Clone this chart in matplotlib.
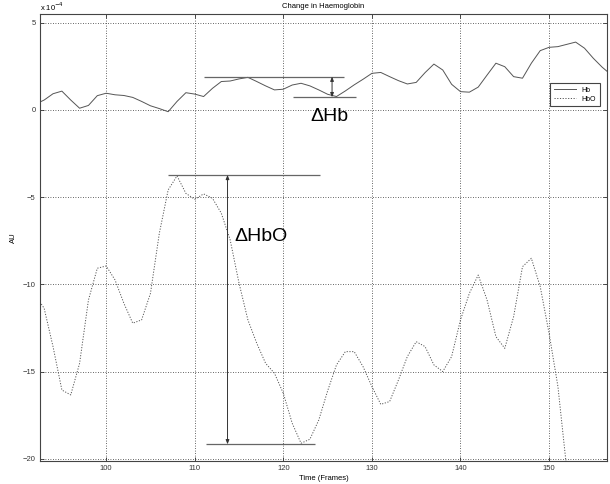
import numpy as np
import matplotlib
matplotlib.use("Agg")
import matplotlib.pyplot as plt

plt.rcParams['font.family'] = ['Liberation Sans', 'DejaVu Sans']

# frames and haemoglobin change (units of 1e-4 AU)
frames = list(range(92, 158))
hb = [0.33, 0.57, 0.93, 1.08, 0.57, 0.10, 0.26, 0.82, 0.96, 0.87,
      0.83, 0.72, 0.49, 0.24, 0.08, -0.10, 0.49, 0.99, 0.91, 0.77,
      1.24, 1.63, 1.66, 1.78, 1.87, 1.63, 1.38, 1.15, 1.19, 1.43,
      1.53, 1.38, 1.15, 0.90, 0.77, 1.09, 1.44, 1.76, 2.10, 2.15,
      1.91, 1.68, 1.49, 1.58, 2.14, 2.63, 2.29, 1.47, 1.05, 1.02,
      1.31, 2.00, 2.68, 2.48, 1.91, 1.82, 2.68, 3.40, 3.59, 3.63,
      3.76, 3.89, 3.54, 2.96, 2.45, 2.02]
hbo_frames = list(range(92, 153))
hbo = [-10.6, -11.37, -13.56, -16.05, -16.33, -14.52, -10.89, -9.07, -8.94, -9.74,
       -11.08, -12.22, -12.03, -10.51, -7.07, -4.58, -3.78, -4.78, -5.12, -4.81,
       -5.06, -5.92, -7.45, -9.93, -12.03, -13.37, -14.52, -15.09, -16.24, -17.95,
       -19.10, -18.87, -17.77, -16.10, -14.61, -13.85, -13.85, -14.71, -15.85, -16.87,
       -16.71, -15.47, -14.13, -13.28, -13.56, -14.61, -14.99, -14.13, -12.03, -10.51,
       -9.46, -10.89, -12.99, -13.66, -11.84, -8.98, -8.50, -10.12, -12.80, -15.85,
       -20.6]

xticks = [100, 110, 120, 130, 140, 150]
yticks = [-20, -15, -10, -5, 0, 5]

fig = plt.figure(figsize=(6.1, 4.84), dpi=100)
ax = fig.add_axes([40 / 610, 1 - 460.7 / 484, 567 / 610, 446.7 / 484])

line_col = '#555555'
ax.plot(frames, hb, color=line_col, lw=0.7, label='Hb')
ax.plot(hbo_frames, hbo, color=line_col, lw=0.7, linestyle=(0, (1.2, 1.6)), label='HbO')

ax.set_xlim(92.53, 156.54)
ax.set_ylim(-20.1, 5.5)
ax.set_xticks(xticks)
ax.set_yticks(yticks)
ax.grid(True, color='#333333', linestyle=(0, (1, 2)), linewidth=0.6)
ax.tick_params(direction='in', length=3, width=0.6, labelsize=5.5, colors='#333333',
               top=True, right=True, pad=3)
for sp in ax.spines.values():
    sp.set_color('#444444')
    sp.set_linewidth(0.8)

ax.set_title('Change in Haemoglobin', fontsize=5.5, pad=4)
ax.set_xlabel('Time (Frames)', fontsize=5.5, labelpad=2)
ax.set_ylabel('AU', fontsize=5.5, labelpad=4)
ax.text(0, 1.007, r'x 10$^{-4}$', transform=ax.transAxes, fontsize=5.5,
        ha='left', va='baseline')

leg = ax.legend(loc='upper right', bbox_to_anchor=(0.993, 0.853), fontsize=5,
                fancybox=False, edgecolor='#444444', handlelength=3.2,
                borderpad=0.5, labelspacing=0.3, handletextpad=0.8, framealpha=1)
leg.get_frame().set_linewidth(0.8)

# delta annotations
ann_col = '#666666'
ax.hlines(1.91, 111.04, 126.9, color=ann_col, lw=0.9)
ax.hlines(0.73, 121.06, 128.15, color=ann_col, lw=0.9)
ax.annotate('', xy=(125.5, 1.91), xytext=(125.5, 0.73),
            arrowprops=dict(arrowstyle='<|-|>,head_length=0.25,head_width=0.1',
                            color='#333333', lw=0.7, shrinkA=0, shrinkB=0))
ax.text(123.0, -0.61, 'ΔHb', fontsize=14, ha='left', va='baseline')

ax.hlines(-3.72, 106.98, 124.18, color=ann_col, lw=0.9)
ax.hlines(-19.16, 111.26, 123.6, color=ann_col, lw=0.9)
ax.annotate('', xy=(113.7, -3.72), xytext=(113.7, -19.16),
            arrowprops=dict(arrowstyle='<|-|>,head_length=0.25,head_width=0.1',
                            color='#333333', lw=0.7, shrinkA=0, shrinkB=0))
ax.text(114.5, -7.51, 'ΔHbO', fontsize=14, ha='left', va='baseline')

fig.savefig('out.png', dpi=100)
